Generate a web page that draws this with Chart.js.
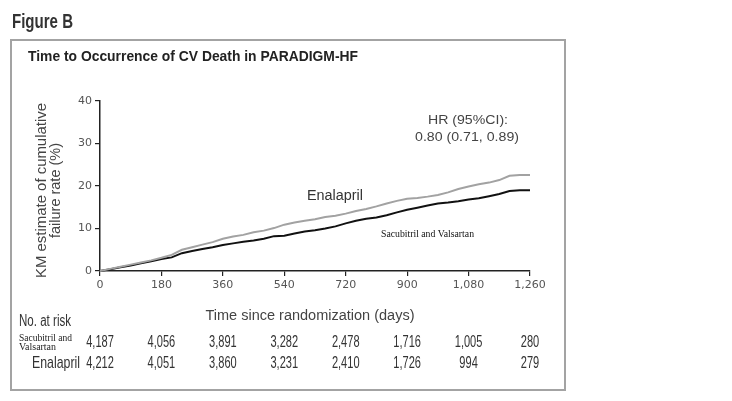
<!DOCTYPE html>
<html>
<head>
<meta charset="utf-8">
<script src="https://cdn.jsdelivr.net/npm/chart.js@4/dist/chart.umd.min.js"></script>
<style>
  html, body { margin: 0; padding: 0; background: #fff; }
  canvas { display: block; }
</style>
</head>
<body>
<canvas id="km" width="732" height="401"></canvas>
<script>
// KM curves (% cumulative failure)
const days = [0, 30, 60, 90, 120, 150, 180, 210, 240, 270, 300, 330, 360, 390, 420, 450, 480, 510, 540, 570, 600,
  630, 660, 690, 720, 750, 780, 810, 840, 870, 900, 930, 960, 990, 1020, 1050, 1080, 1110, 1140, 1170, 1200, 1230, 1260];
const enalapril = [0, 0.5, 1.0, 1.5, 2.0, 2.5, 3.1, 3.8, 5.0, 5.6, 6.2, 6.8, 7.6, 8.1, 8.5, 9.1, 9.5, 10.1, 10.9, 11.4, 11.8,
  12.2, 12.7, 13.0, 13.5, 14.1, 14.6, 15.2, 15.9, 16.5, 17.0, 17.2, 17.5, 17.9, 18.5, 19.3, 19.9, 20.4, 20.8, 21.4, 22.4, 22.6, 22.6];
const sacVal = [0, 0.4, 0.9, 1.3, 1.8, 2.3, 2.8, 3.2, 4.2, 4.7, 5.2, 5.6, 6.1, 6.5, 6.9, 7.2, 7.6, 8.2, 8.3, 8.8, 9.3,
  9.6, 10.0, 10.5, 11.2, 11.8, 12.3, 12.6, 13.1, 13.8, 14.4, 14.9, 15.4, 15.9, 16.1, 16.4, 16.8, 17.1, 17.6, 18.1, 18.8, 19.0, 19.0];

// number at risk table
const riskDays = [0, 180, 360, 540, 720, 900, 1080, 1260];
const riskSacVal = [4187, 4056, 3891, 3282, 2478, 1716, 1005, 280];
const riskEnal = [4212, 4051, 3860, 3231, 2410, 1726, 994, 279];

const xTickStep = 180;
const yTickStep = 10;

const fmt = v => v.toLocaleString('en-US');

// draw text squeezed/stretched to a measured width
function fitText(ctx, text, x, y, width, font, color, align, rotate) {
  ctx.save();
  ctx.font = font;
  ctx.fillStyle = color;
  ctx.textBaseline = 'middle';
  ctx.textAlign = align || 'center';
  const w = ctx.measureText(text).width;
  ctx.translate(x, y);
  if (rotate) ctx.rotate(-Math.PI / 2);
  ctx.scale(width / w, 1);
  ctx.fillText(text, 0, 0);
  ctx.restore();
}

// condensed text by a fixed squeeze factor
function narrowText(ctx, text, x, y, squeeze) {
  ctx.save();
  ctx.translate(x, y);
  ctx.scale(squeeze, 1);
  ctx.fillText(text, 0, 0);
  ctx.restore();
}

const SANS = '"Liberation Sans", Arial, sans-serif';
const SERIF = '"Liberation Serif", "DejaVu Serif", serif';

const decorations = {
  id: 'decorations',
  beforeDraw(chart) {
    const ctx = chart.ctx;
    ctx.save();
    ctx.fillStyle = '#fff';
    ctx.fillRect(0, 0, chart.width, chart.height);
    ctx.strokeStyle = '#a3a3a3';
    ctx.lineWidth = 2;
    ctx.strokeRect(11, 40, 554, 350);
    ctx.restore();
  },
  afterDraw(chart) {
    const ctx = chart.ctx;
    const xs = chart.scales.x;

    fitText(ctx, 'Figure B', 12, 22, 61, 'bold 20px ' + SANS, '#333', 'left');
    fitText(ctx, 'Time to Occurrence of CV Death in PARADIGM-HF', 28, 57, 330, 'bold 14px ' + SANS, '#222', 'left');

    fitText(ctx, 'KM estimate of cumulative', 42, 190.5, 175, '14px ' + SANS, '#444', 'center', true);
    fitText(ctx, 'failure rate (%)', 56, 190.5, 95, '14px ' + SANS, '#444', 'center', true);

    fitText(ctx, 'HR (95%CI):', 468, 120, 80, '13px ' + SANS, '#444', 'center');
    fitText(ctx, '0.80 (0.71, 0.89)', 467, 137, 104, '13px ' + SANS, '#444', 'center');
    fitText(ctx, 'Enalapril', 335, 196, 56, '14px ' + SANS, '#333', 'center');
    fitText(ctx, 'Sacubitril and Valsartan', 427.5, 234, 93, '10px ' + SERIF, '#111', 'center');

    fitText(ctx, 'Time since randomization (days)', 310, 316, 209, '14px ' + SANS, '#444', 'center');

    fitText(ctx, 'No. at risk', 19, 322, 52, '16px ' + SANS, '#333', 'left');
    fitText(ctx, 'Sacubitril and', 19, 338.5, 53, '10px ' + SERIF, '#222', 'left');
    fitText(ctx, 'Valsartan', 19, 347.7, 37, '10px ' + SERIF, '#222', 'left');
    fitText(ctx, 'Enalapril', 32, 363, 48, '17px ' + SANS, '#333', 'left');

    ctx.save();
    ctx.font = '17px ' + SANS;
    ctx.fillStyle = '#333';
    ctx.textAlign = 'center';
    ctx.textBaseline = 'middle';
    riskDays.forEach((d, i) => {
      const px = xs.getPixelForValue(d);
      narrowText(ctx, fmt(riskSacVal[i]), px, 342, 0.65);
      narrowText(ctx, fmt(riskEnal[i]), px, 363, 0.65);
    });
    ctx.restore();
  }
};

new Chart(document.getElementById('km'), {
  type: 'line',
  data: {
    datasets: [
      {
        label: 'Enalapril',
        data: days.map((d, i) => ({ x: d, y: enalapril[i] })),
        borderColor: '#a2a2a2',
        borderWidth: 2,
        pointRadius: 0,
        tension: 0,
        clip: 4
      },
      {
        label: 'Sacubitril and Valsartan',
        data: days.map((d, i) => ({ x: d, y: sacVal[i] })),
        borderColor: '#111',
        borderWidth: 2,
        pointRadius: 0,
        tension: 0,
        clip: 4
      }
    ]
  },
  options: {
    responsive: false,
    animation: false,
    layout: { padding: { left: 0, top: 101, right: 202, bottom: 100 } },
    plugins: {
      legend: { display: false },
      tooltip: { enabled: false }
    },
    scales: {
      x: {
        type: 'linear',
        min: 0,
        max: 1260,
        afterFit: s => { s.height = 30; },
        border: { display: true, color: '#222', width: 1.5 },
        grid: { display: true, drawOnChartArea: false, drawTicks: true, tickLength: 5, color: '#222', lineWidth: 1.2 },
        ticks: {
          stepSize: xTickStep,
          padding: 3,
          maxRotation: 0,
          color: '#555',
          font: { family: '"DejaVu Sans", sans-serif', size: 11 },
          callback: v => fmt(v)
        }
      },
      y: {
        min: 0,
        max: 40,
        afterFit: s => { s.width = 100; },
        border: { display: true, color: '#222', width: 1.5 },
        grid: { display: true, drawOnChartArea: false, drawTicks: true, tickLength: 5, color: '#222', lineWidth: 1.2 },
        ticks: {
          stepSize: yTickStep,
          padding: 3,
          color: '#555',
          font: { family: '"DejaVu Sans", sans-serif', size: 11 }
        }
      }
    }
  },
  plugins: [decorations]
});
</script>
</body>
</html>
